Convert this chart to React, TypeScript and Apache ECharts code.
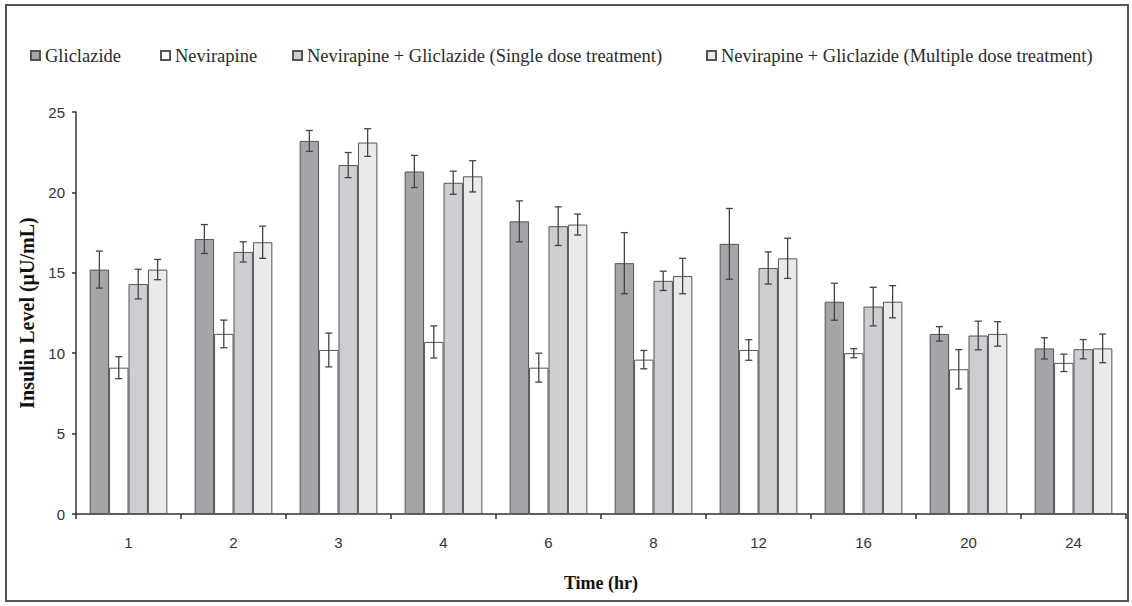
import React, { useEffect, useRef } from "react";
import * as echarts from "echarts";

const categories = ["1", "2", "3", "4", "6", "8", "12", "16", "20", "24"];
const seriesNames = [
  "Gliclazide",
  "Nevirapine",
  "Nevirapine + Gliclazide (Single dose treatment)",
  "Nevirapine + Gliclazide (Multiple dose treatment)",
];
const gliclazide = [15.2, 17.1, 23.2, 21.3, 18.2, 15.6, 16.8, 13.2, 11.2, 10.3];
const gliclazideErr = [1.15, 0.9, 0.65, 1.0, 1.27, 1.9, 2.2, 1.15, 0.45, 0.66];
const nevirapine = [9.1, 11.2, 10.2, 10.7, 9.1, 9.6, 10.2, 10.0, 9.0, 9.4];
const nevirapineErr = [0.68, 0.86, 1.05, 1.0, 0.9, 0.57, 0.64, 0.28, 1.22, 0.54];
const single = [14.3, 16.3, 21.7, 20.6, 17.9, 14.5, 15.3, 12.9, 11.1, 10.25];
const singleErr = [0.92, 0.63, 0.78, 0.72, 1.2, 0.6, 1.0, 1.2, 0.89, 0.6];
const multiple = [15.2, 16.9, 23.1, 21.0, 18.0, 14.8, 15.9, 13.2, 11.2, 10.3];
const multipleErr = [0.63, 1.0, 0.86, 0.97, 0.65, 1.1, 1.25, 1.0, 0.76, 0.89];
const yTicks = { min: 0, max: 25, interval: 5 };

const values = [gliclazide, nevirapine, single, multiple];
const errors = [gliclazideErr, nevirapineErr, singleErr, multipleErr];
const fills = ["#a3a5a8", "#ffffff", "#cdced1", "#e9eaec"];
const legendLefts = [30, 160, 292, 706];
const CAT_GAP = 0.26;

function makeErrRender(si: number) {
  return (params: any, api: any) => {
    const idx = api.value(0);
    const v = api.value(1);
    const e = api.value(2);
    const band = api.size([1, 0])[0];
    const barW = (band * (1 - CAT_GAP)) / 4;
    const cx = api.coord([idx, v])[0] + (si - 1.5) * barW;
    const yTop = api.coord([idx, v + e])[1];
    const yBot = api.coord([idx, v - e])[1];
    const cap = 3.5;
    const style = { stroke: "#444", lineWidth: 1.3 };
    return {
      type: "group",
      children: [
        { type: "line", shape: { x1: cx, y1: yTop, x2: cx, y2: yBot }, style },
        { type: "line", shape: { x1: cx - cap, y1: yTop, x2: cx + cap, y2: yTop }, style },
        { type: "line", shape: { x1: cx - cap, y1: yBot, x2: cx + cap, y2: yBot }, style },
      ],
    };
  };
}

export default function App() {
  const ref = useRef<HTMLDivElement>(null);
  useEffect(() => {
    document.body.style.margin = "0";
    const chart = echarts.init(ref.current!, null, { renderer: "svg" });
    const barSeries = seriesNames.map((name, i) => ({
      name,
      type: "bar",
      data: values[i],
      barGap: "0%",
      barCategoryGap: CAT_GAP * 100 + "%",
      itemStyle: { color: fills[i], borderColor: "#555", borderWidth: 1 },
      z: 2,
    }));
    const errSeries = seriesNames.map((name, i) => ({
      name: name + " SD",
      type: "custom",
      renderItem: makeErrRender(i),
      encode: { x: 0, y: 1 },
      data: values[i].map((v, k) => [k, v, errors[i][k]]),
      z: 5,
      silent: true,
    }));
    chart.setOption({
      animation: false,
      backgroundColor: "#ffffff",
      legend: seriesNames.map((name, i) => ({
        data: [name],
        left: legendLefts[i],
        top: 46,
        padding: 0,
        itemWidth: 9,
        itemHeight: 9,
        itemGap: 0,
        selectedMode: false,
        icon: "rect",
        textStyle: { fontFamily: "Liberation Serif", fontSize: 18.5, fontWeight: "normal", color: "#2a2a2a", padding: [0, 0, 0, 0] },
      })),
      grid: { left: 76, right: 6, top: 112, bottom: 92, containLabel: false },
      xAxis: {
        type: "category",
        data: categories,
        name: "Time (hr)",
        nameLocation: "middle",
        nameGap: 60,
        nameTextStyle: { fontFamily: "Liberation Serif", fontWeight: "bold", fontSize: 18, color: "#111" },
        axisLine: { lineStyle: { color: "#333", width: 1.5 } },
        axisTick: { show: true, length: 5, inside: false, lineStyle: { color: "#333", width: 1.5 } },
        axisLabel: { fontFamily: "Liberation Sans", fontSize: 15, color: "#333", margin: 21 },
      },
      yAxis: {
        type: "value",
        min: yTicks.min,
        max: yTicks.max,
        interval: yTicks.interval,
        name: "Insulin Level (µU/mL)",
        nameLocation: "middle",
        nameGap: 39,
        nameTextStyle: { fontFamily: "Liberation Serif", fontWeight: "bold", fontSize: 20, color: "#111" },
        splitLine: { show: false },
        axisLine: { show: true, lineStyle: { color: "#333", width: 1.5 } },
        axisTick: { show: true, length: 4, lineStyle: { color: "#333", width: 1.5 } },
        axisLabel: { fontFamily: "Liberation Sans", fontSize: 15, color: "#333", margin: 11 },
      },
      graphic: [
        {
          type: "rect",
          shape: { x: 6, y: 5, width: 1122, height: 596 },
          style: { fill: "none", stroke: "#555", lineWidth: 2 },
          z: 100,
        },
      ],
      series: [...barSeries, ...errSeries],
    });
    return () => chart.dispose();
  }, []);
  return <div ref={ref} style={{ width: 1132, height: 606 }} />;
}
